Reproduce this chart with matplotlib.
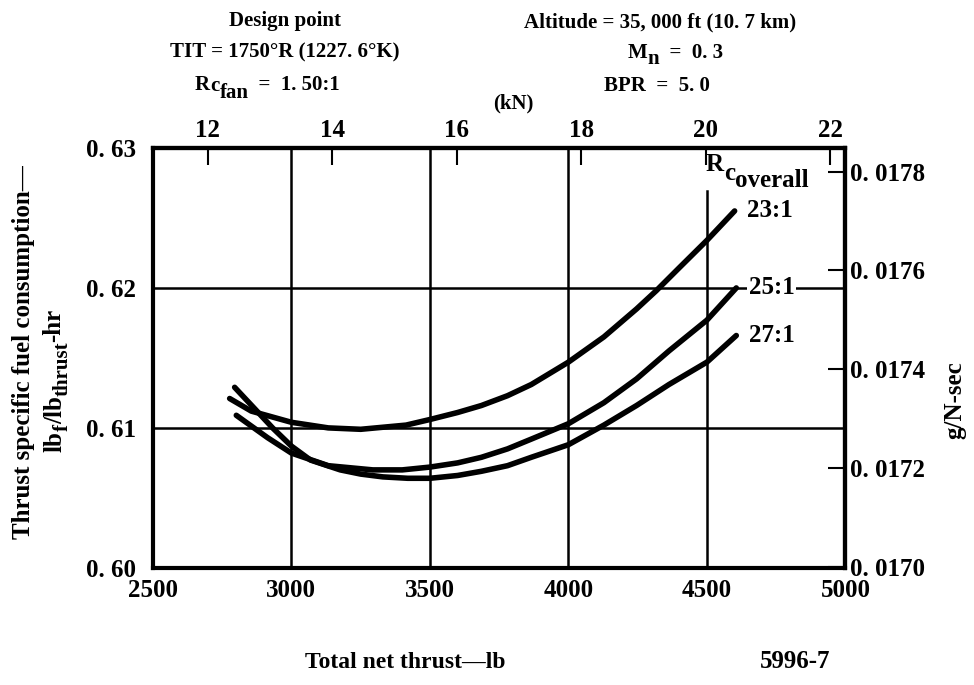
import matplotlib
matplotlib.use("Agg")
import matplotlib.pyplot as plt
from matplotlib.ticker import FixedLocator, FuncFormatter

plt.rcParams["font.family"] = ["Liberation Serif", "DejaVu Serif"]
plt.rcParams["font.weight"] = "bold"

# ---- data (thrust in lb, TSFC in lb/lb-hr) ----
thrust_23 = [2777, 2855, 3000, 3133, 3250, 3414, 3500, 3600, 3686, 3780, 3866, 4000, 4128, 4246, 4317,
             4398, 4500, 4600]
tsfc_23 = [0.6121, 0.6112, 0.6104, 0.6100, 0.6099, 0.6102, 0.6106, 0.6111, 0.6116, 0.6123, 0.6131, 0.6147,
           0.6165, 0.6185, 0.6198, 0.6214, 0.6234, 0.6255]

thrust_25 = [2801, 2914, 3000, 3133, 3294, 3400, 3500, 3600, 3686, 3780, 3866, 4000, 4128, 4246, 4363, 4500, 4606]
tsfc_25 = [0.6109, 0.6093, 0.6082, 0.6073, 0.6070, 0.6070, 0.6072, 0.6075, 0.6079, 0.6085, 0.6092, 0.6103,
           0.6118, 0.6135, 0.6155, 0.6177, 0.6200]

thrust_27 = [2795, 2866, 2932, 3000, 3069, 3176, 3250, 3330, 3420, 3500, 3600, 3686, 3780, 3866, 4000, 4128,
             4246, 4363, 4500, 4606]
tsfc_27 = [0.6129, 0.6114, 0.6100, 0.6087, 0.6077, 0.6070, 0.6067, 0.6065, 0.6064, 0.6064, 0.6066, 0.6069,
           0.6073, 0.6079, 0.6088, 0.6102, 0.6116, 0.6131, 0.6147, 0.6166]

series = [("23:1", thrust_23, tsfc_23), ("25:1", thrust_25, tsfc_25), ("27:1", thrust_27, tsfc_27)]

x_ticks = [2500, 3000, 3500, 4000, 4500, 5000]
y_ticks = [0.60, 0.61, 0.62, 0.63]
kn_ticks = [12, 14, 16, 18, 20, 22]
si_ticks = [0.0170, 0.0172, 0.0174, 0.0176, 0.0178]

LB_TO_KN = 0.0044482
TSFC_TO_SI = 0.02833   # lb/lbf-hr -> g/N-sec


def spaced(v, nd):
    # old typewriter style "0. 63"
    return f"{v:.{nd}f}".replace(".", ". ")


def chain(fig, x0, y0, pieces, rotation=0):
    """Lay text pieces end to end (pixel coords from top-left), each piece
    (text, size, shift) with shift in px below (or right of) the baseline.
    Used for the big old-style subscripts mathtext would shrink."""
    W, H = fig.bbox.width, fig.bbox.height
    r = fig.canvas.get_renderer()
    pos = 0.0
    for s, size, shift in pieces:
        if rotation == 0:
            x, y = x0 + pos, y0 + shift
        else:
            x, y = x0 + shift, y0 - pos
        t = fig.text(x / W, 1 - y / H, s, fontsize=size, rotation=rotation,
                     rotation_mode="anchor", ha="left", va="baseline", zorder=5)
        bb = t.get_window_extent(renderer=r)
        pos += bb.width if rotation == 0 else bb.height


fig = plt.figure(figsize=(9.74, 6.85), dpi=100)
ax = fig.add_axes([0.157, 0.171, 0.711, 0.613])

ax.set_xlim(2500, 5000)
ax.set_ylim(0.60, 0.63)

# grid drawn by hand: the 4500 line stops under the R_c,overall label
for xv in x_ticks[1:-1]:
    ax.axvline(xv, color="black", lw=1.8, ymax=0.897 if xv == 4500 else 1, zorder=1)
for yv in y_ticks[1:-1]:
    ax.axhline(yv, color="black", lw=1.8, zorder=1)

for name, xs, ys in series:
    ax.plot(xs, ys, color="black", lw=4, solid_capstyle="round", solid_joinstyle="round", zorder=3)
    ax.text(xs[-1] + 45, ys[-1], name, fontsize=18, fontweight="bold", va="center", ha="left",
            bbox=dict(facecolor="white", edgecolor="none", pad=1), zorder=4)

ax.xaxis.set_major_locator(FixedLocator(x_ticks))
ax.yaxis.set_major_locator(FixedLocator(y_ticks))
ax.yaxis.set_major_formatter(FuncFormatter(lambda v, p: spaced(v, 2)))
ax.tick_params(axis="x", length=0, labelsize=18, pad=8)
ax.tick_params(axis="y", length=0, labelsize=18, pad=12)
for sp in ax.spines.values():
    sp.set_linewidth(3)

top = ax.secondary_xaxis("top", functions=(lambda v: v * LB_TO_KN, lambda v: v / LB_TO_KN))
top.xaxis.set_major_locator(FixedLocator(kn_ticks))
top.tick_params(direction="in", length=12, width=1.5, labelsize=18, pad=4)
top.spines["top"].set_linewidth(3)

right = ax.secondary_yaxis("right", functions=(lambda v: v * TSFC_TO_SI, lambda v: v / TSFC_TO_SI))
right.yaxis.set_major_locator(FixedLocator(si_ticks))
right.yaxis.set_major_formatter(FuncFormatter(lambda v, p: spaced(v, 4)))
right.tick_params(direction="in", length=12, width=1.5, labelsize=18, pad=3)
right.spines["right"].set_linewidth(3)

fig.canvas.draw()

# label inside the plot
chain(fig, 706, 171, [("R", 18, 0), ("c", 18, 9), ("overall", 18, 16)])

# header text
fs = 15
fig.text(285 / 974, 1 - 21 / 685, "Design point", ha="center", va="center", fontsize=fs)
fig.text(285 / 974, 1 - 52 / 685, "TIT = 1750°R (1227. 6°K)", ha="center", va="center", fontsize=fs)
chain(fig, 195, 90, [("R", fs, 0), ("c", fs, 1), ("fan", fs, 8), ("  =  1. 50:1", fs, 0)])
fig.text(660 / 974, 1 - 22 / 685, "Altitude = 35, 000 ft (10. 7 km)", ha="center", va="center", fontsize=fs)
chain(fig, 628, 58, [("M", fs, 0), ("n", fs, 6), ("  =  0. 3", fs, 0)])
fig.text(657 / 974, 1 - 86 / 685, "BPR  =  5. 0", ha="center", va="center", fontsize=fs)
fig.text(513 / 974, 1 - 103 / 685, "(kN)", ha="center", va="center", fontsize=fs)

# axis titles
fig.text(24 / 974, 1 - 352 / 685, "Thrust specific fuel consumption—", rotation=90,
         ha="center", va="center", fontsize=18)
chain(fig, 62, 452, [("lb", 18, 0), ("f", 15, 6), ("/lb", 18, 0), ("thrust", 15, 6), ("-hr", 18, -2)],
      rotation=90)
fig.text(955 / 974, 1 - 400 / 685, "g/N-sec", rotation=90, ha="center", va="center", fontsize=18)

fig.text(405 / 974, 1 - 662 / 685, "Total net thrust—lb", ha="center", va="center", fontsize=17)
fig.text(795 / 974, 1 - 662 / 685, "5996-7", ha="center", va="center", fontsize=18)

fig.savefig("out.png", dpi=100)
